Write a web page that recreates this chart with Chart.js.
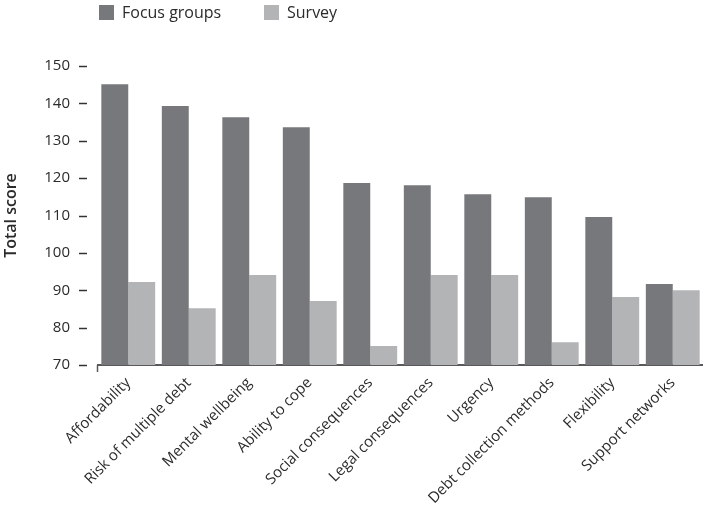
<!DOCTYPE html>
<html>
<head>
<meta charset="utf-8">
<script src="https://cdn.jsdelivr.net/npm/chart.js@4.4.1/dist/chart.umd.min.js"></script>
<style>
  html, body { margin: 0; padding: 0; background: #ffffff; }
  #wrap { width: 703px; height: 515px; position: relative; }
</style>
</head>
<body>
<div id="wrap"><canvas id="c"></canvas></div>
<script>
const categories = ['Affordability', 'Risk of multiple debt', 'Mental wellbeing', 'Ability to cope',
  'Social consequences', 'Legal consequences', 'Urgency', 'Debt collection methods', 'Flexibility', 'Support networks'];
const focusGroups = [145.1, 139.3, 136.3, 133.6, 118.7, 118.1, 115.7, 114.9, 109.6, 91.7];
const survey = [92.2, 85.2, 94.1, 87.1, 75.1, 94.1, 94.1, 76.1, 88.2, 90.0];
const yMin = 70, yMax = 150, yStep = 10;
const seriesNames = ['Focus groups', 'Survey'];

const FONT = '"Open Sans", "DejaVu Sans", sans-serif';
const TEXT = '#2b2b2b';

const decor = {
  id: 'decor',
  afterDraw(chart) {
    const ctx = chart.ctx;
    const y = chart.scales.y;
    const area = chart.chartArea;
    ctx.save();
    // y tick dashes
    ctx.strokeStyle = '#333333';
    ctx.lineWidth = 1.5;
    y.ticks.forEach(t => {
      const py = Math.round(y.getPixelForValue(t.value)) + 0.5;
      ctx.beginPath();
      ctx.moveTo(area.left - 19, py);
      ctx.lineTo(area.left - 11, py);
      ctx.stroke();
    });
    // small stub at x-axis start
    ctx.strokeStyle = '#58595b';
    ctx.lineWidth = 1.5;
    ctx.beginPath();
    ctx.moveTo(area.left - 0.5, area.bottom);
    ctx.lineTo(area.left - 0.5, area.bottom + 7);
    ctx.stroke();
    // legend
    ctx.font = '16px ' + FONT;
    ctx.textBaseline = 'middle';
    ctx.textAlign = 'left';
    const xs = [99, 264];
    chart.data.datasets.forEach((ds, i) => {
      ctx.fillStyle = ds.backgroundColor;
      ctx.fillRect(xs[i], 5, 15, 15);
      ctx.fillStyle = TEXT;
      ctx.fillText(ds.label, xs[i] + 23, 13);
    });
    ctx.restore();
  }
};

new Chart(document.getElementById('c'), {
  type: 'bar',
  data: {
    labels: categories,
    datasets: [
      { label: seriesNames[0], data: focusGroups, backgroundColor: '#77787b' },
      { label: seriesNames[1], data: survey, backgroundColor: '#b3b4b6' }
    ]
  },
  options: {
    responsive: true,
    maintainAspectRatio: false,
    animation: false,
    devicePixelRatio: 1,
    layout: { padding: { top: 66, right: 0, bottom: 0, left: 0 } },
    datasets: { bar: { categoryPercentage: 0.89, barPercentage: 1.0, borderWidth: 0 } },
    plugins: {
      legend: { display: false },
      tooltip: { enabled: false }
    },
    scales: {
      x: {
        grid: { display: false, drawTicks: false },
        border: { display: true, color: '#58595b', width: 2 },
        ticks: {
          color: TEXT,
          font: { family: FONT, size: 15 },
          minRotation: 45, maxRotation: 45,
          padding: 9,
          autoSkip: false
        },
        afterFit(scale) { scale.paddingLeft = 0; scale.paddingRight = 0; scale.height = 150; }
      },
      y: {
        min: yMin, max: yMax,
        grid: { display: false, drawTicks: false },
        border: { display: false },
        ticks: {
          stepSize: yStep,
          color: TEXT,
          font: { family: FONT, size: 15 },
          padding: 28
        },
        title: {
          display: true,
          text: 'Total score',
          color: TEXT,
          font: { family: FONT, size: 16, weight: '600' },
          padding: { top: 2, bottom: 22 }
        },
        afterFit(scale) { scale.width = 98; }
      }
    }
  },
  plugins: [decor]
});
</script>
</body>
</html>
